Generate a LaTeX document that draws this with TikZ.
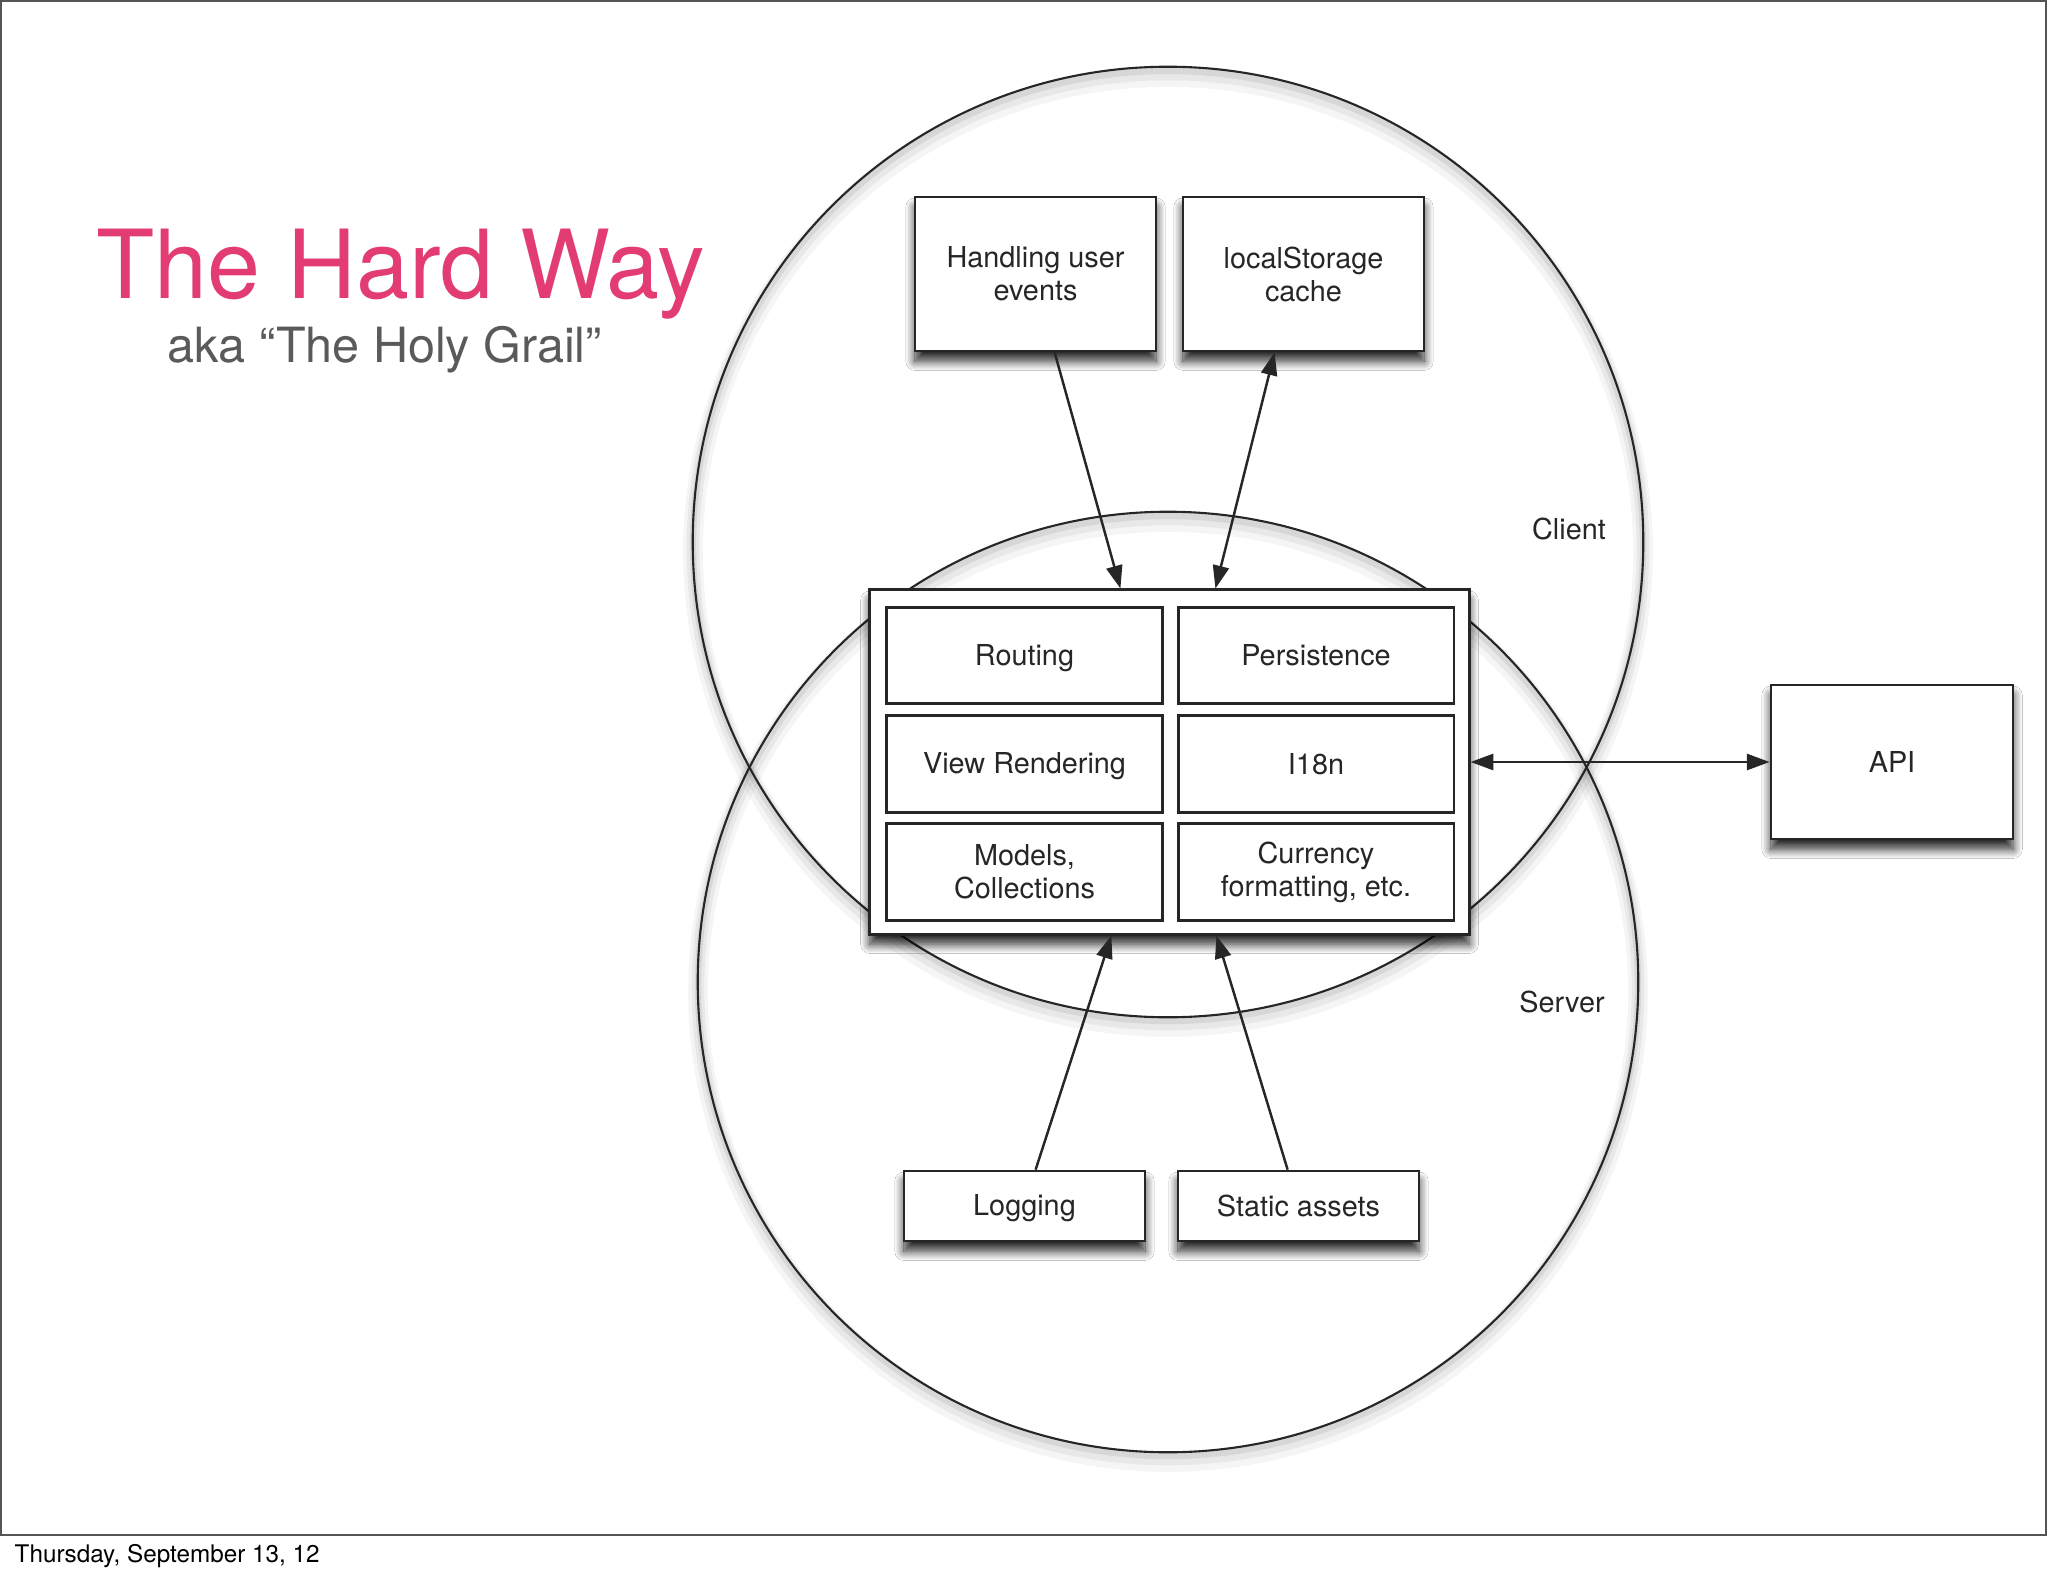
\documentclass[tikz,border=0pt]{standalone}
\usepackage{fontspec}
\setmainfont{TeX Gyre Heros}
\usetikzlibrary{arrows.meta,shadows.blur,calc}
\definecolor{titlepink}{HTML}{E23C72}
\definecolor{subgray}{HTML}{5A5A5A}
\definecolor{linec}{HTML}{262626}
\definecolor{framec}{HTML}{555555}
\newcommand{\dgfont}{\fontsize{8.2}{9.4}\selectfont}
\newcommand{\one}[1]{\rule[-1.5pt]{0pt}{8.7pt}#1}
\begin{document}
\begin{tikzpicture}[x=0.01cm,y=-0.01cm,
  shad/.style={blur shadow={shadow xshift=0pt, shadow yshift=-2.9pt, shadow blur radius=2.6pt, shadow opacity=85, shadow blur steps=12}},
  box/.style={draw=linec, line width=0.75pt, fill=white, inner sep=0pt, align=center, text=linec, font=\dgfont, shad},
  cell/.style={draw=linec, line width=0.75pt, fill=white, inner sep=0pt, align=center, text=linec, font=\dgfont, minimum width=2.755cm, minimum height=0.965cm},
  tip/.tip={Triangle[length=6.5pt,width=4.6pt]},
  arr/.style={draw=linec, line width=0.7pt, -tip},
  biarr/.style={draw=linec, line width=0.7pt, tip-tip},
  venn/.style={circle, draw=linec, line width=0.6pt, inner sep=0pt},
  lbl/.style={font=\dgfont, text=linec, inner sep=0pt, anchor=base},
  csh/.style={draw=black, opacity=#1}
]
\useasboundingbox (0,0) rectangle (2048,1576);
\fill[white] (0,0) rectangle (2048,1576);
% slide frame
\draw[framec, line width=0.6pt] (1,1) rectangle (2046,1535);
% titles
\node[anchor=base west, inner sep=0pt, text=titlepink, font=\fontsize{27.1}{30}\selectfont] (title) at (96,298) {The Hard Way};
\node[anchor=base west, inner sep=0pt, text=subgray, font=\fontsize{13.8}{16}\selectfont] (subtitle) at (167,363) {aka “The Holy Grail”};
\node[anchor=base west, inner sep=0pt, text=black, font=\fontsize{6.9}{8}\selectfont] (footer) at (14,1562) {Thursday, September 13, 12};
% soft shadows of the circles
\foreach \c/\r in {542/475, 982/470} {
  \draw[csh=0.04, line width=5.6pt] (1168,\c+10) circle[radius=\r];
  \draw[csh=0.05, line width=3.6pt] (1168,\c+7) circle[radius=\r];
  \draw[csh=0.07, line width=1.8pt] (1168,\c+4) circle[radius=\r];
}
% circles
\node[venn, minimum size=9.5cm] (client) at (1168,542) {};
\node[venn, minimum size=9.4cm] (server) at (1168,982) {};
\node[lbl] (clientlbl) at (1569,539) {Client};
\node[lbl] (serverlbl) at (1562,1012) {Server};
% top boxes
\node[box, minimum width=2.41cm, minimum height=1.54cm] (hue) at (1035.5,274) {Handling user\\events};
\node[box, minimum width=2.41cm, minimum height=1.54cm] (lsc) at (1303.5,274) {localStorage\\cache};
% main box
\node[box, line width=0.8pt, minimum width=5.99cm, minimum height=3.44cm] (main) at (1169.5,762) {};
\node[cell] (routing) at (1024.5,655.5) {\one{Routing}};
\node[cell] (persist) at (1316,655.5) {\one{Persistence}};
\node[cell] (view) at (1024.5,764) {\one{View Rendering}};
\node[cell] (i18n) at (1316,764) {\one{I18n}};
\node[cell] (models) at (1024.5,872) {Models,\\Collections};
\node[cell] (currency) at (1316,872) {Currency\\formatting, etc.};
% API
\node[box, minimum width=2.42cm, minimum height=1.54cm] (api) at (1892,762) {\one{API}};
% bottom boxes
\node[box, minimum width=2.41cm, minimum height=0.70cm] (logging) at (1024.5,1206) {\one{Logging}};
\node[box, minimum width=2.41cm, minimum height=0.70cm] (static) at (1298.5,1206) {\one{Static assets}};
% connectors
\draw[arr] ($(hue.south west)+(141,0)$) -- ($(main.north west)+(252,0)$);
\draw[biarr] ($(main.north west)+(347,0)$) -- ($(lsc.south west)+(93,0)$);
\draw[biarr] (main.east) -- (api.west);
\draw[arr] ($(logging.north west)+(133,0)$) -- ($(main.south west)+(243,0)$);
\draw[arr] ($(static.north west)+(111,0)$) -- ($(main.south west)+(348,0)$);
\end{tikzpicture}
\end{document}
